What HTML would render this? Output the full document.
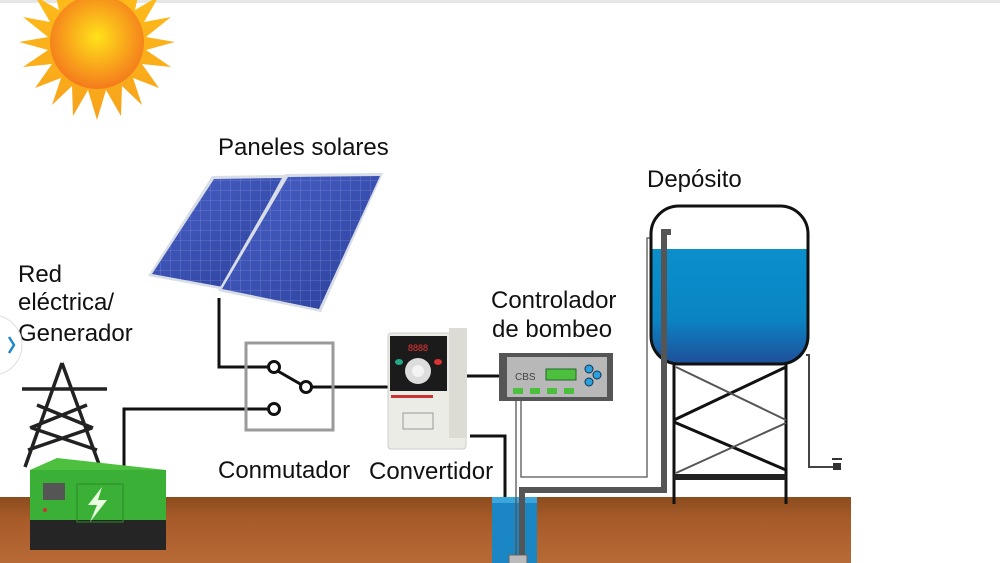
<!DOCTYPE html>
<html><head><meta charset="utf-8"><style>
html,body{margin:0;padding:0;background:#fff;width:1000px;height:563px;overflow:hidden}
svg{display:block}
text{font-family:"Liberation Sans",sans-serif;fill:#111}
</style></head><body>
<svg width="1000" height="563" viewBox="0 0 1000 563" xmlns="http://www.w3.org/2000/svg">
<defs>
<radialGradient id="sun" cx="0.5" cy="0.45" r="0.55"><stop offset="0" stop-color="#ffe21a"/><stop offset="1" stop-color="#f47a1c"/></radialGradient>
<linearGradient id="ray" x1="0" y1="0" x2="0" y2="1"><stop offset="0" stop-color="#ffc21a"/><stop offset="1" stop-color="#f7a21a"/></linearGradient>
<linearGradient id="soil" x1="0" y1="0" x2="0" y2="1"><stop offset="0" stop-color="#8a4c1e"/><stop offset="0.3" stop-color="#a65a28"/><stop offset="1" stop-color="#b86a36"/></linearGradient>
<linearGradient id="water" x1="0" y1="0" x2="0" y2="1"><stop offset="0" stop-color="#0b8fcc"/><stop offset="0.6" stop-color="#0a85c4"/><stop offset="1" stop-color="#1f4f9a"/></linearGradient>
<linearGradient id="panel" x1="0" y1="0" x2="1" y2="1"><stop offset="0" stop-color="#4a62c8"/><stop offset="1" stop-color="#2b3f9a"/></linearGradient>
<pattern id="grid" width="10" height="10" patternUnits="userSpaceOnUse"><path d="M0 0H10M0 0V10" stroke="#8fa3e6" stroke-width="0.8"/></pattern>
</defs>
<rect x="0" y="0" width="1000" height="3" fill="#e6e6e6"/>
<!-- sun -->
<g transform="translate(97,42)">
<polygon fill="url(#ray)" points="0,-78 9,-48 24,-74 25,-42 45,-63 38,-32 62,-46 47,-20 74,-25 49,-5 78,0 49,8 74,25 45,22 62,46 36,36 45,63 25,44 24,74 9,48 0,78 -9,48 -24,74 -25,44 -45,63 -36,36 -62,46 -45,22 -74,25 -49,8 -78,0 -49,-5 -74,-25 -47,-20 -62,-46 -38,-32 -45,-63 -25,-42 -24,-74 -9,-48"/>
<circle r="47" fill="url(#sun)"/>
</g>
<!-- panels -->
<polygon points="212,176 285,175 225,290 148,276" fill="#d8dde6"/>
<polygon points="214,179 282,178 223,287 152,274" fill="url(#panel)"/>
<polygon points="214,179 282,178 223,287 152,274" fill="url(#grid)" opacity="0.6"/>
<polygon points="285,174 383,173 321,312 218,291" fill="#d8dde6"/>
<polygon points="288,177 380,176 319,309 222,289" fill="url(#panel)"/>
<polygon points="288,177 380,176 319,309 222,289" fill="url(#grid)" opacity="0.6"/>
<g font-size="24">
<text x="218" y="155">Paneles solares</text>
<text x="18" y="282">Red</text>
<text x="18" y="310">eléctrica/</text>
<text x="18" y="341">Generador</text>
<text x="647" y="187">Depósito</text>
<text x="491" y="308">Controlador</text>
<text x="492" y="337">de bombeo</text>
<text x="218" y="478">Conmutador</text>
<text x="369" y="479">Convertidor</text>
<text x="556" y="572">Bomba</text>
</g>
<!-- left edge button -->
<circle cx="-8" cy="345" r="30" fill="#fff" stroke="#ddd"/>
<path d="M9 337 L14 345 L9 353" stroke="#1e88c8" stroke-width="2.5" fill="none"/>
<!-- wires -->
<g stroke="#111" stroke-width="3" fill="none">
<path d="M219 298 V367 H270"/>
<path d="M124 470 V409 H267"/>
<path d="M310 387 H388"/>
<path d="M467 376 H500"/>
<path d="M470 436 H505 V555"/>
</g>
<!-- switch -->
<rect x="246" y="343" width="87" height="87" fill="none" stroke="#9a9a9a" stroke-width="3"/>
<g stroke="#111" stroke-width="3" fill="#fff">
<line x1="276" y1="370" x2="302" y2="385"/>
<circle cx="274" cy="367" r="5.5"/><circle cx="306" cy="387" r="5.5"/><circle cx="274" cy="409" r="5.5"/>
</g>
<!-- tower -->
<g stroke="#222" stroke-width="3.5" fill="none">
<path d="M62 363 L25 467 M62 363 L100 467 M22 389 H107 M37 405 L93 428 M87 405 L30 428 M32 428 L97 450 M92 428 L28 450"/>
</g>
<!-- ground -->
<rect x="0" y="497" width="492" height="66" fill="url(#soil)"/>
<rect x="537" y="497" width="314" height="66" fill="url(#soil)"/>
<rect x="492" y="499" width="45" height="64" fill="#1a86c4"/>
<rect x="492" y="497" width="45" height="6" fill="#3aa6dc"/>
<rect x="509" y="555" width="18" height="10" fill="#bbb" stroke="#666"/>
<!-- generator -->
<polygon points="30,470 57,458 166,470 166,480" fill="#4ec040"/>
<rect x="30" y="470" width="136" height="58" fill="#3bb036"/>
<rect x="30" y="520" width="136" height="30" fill="#252525"/>
<rect x="43" y="483" width="22" height="17" fill="#555"/>
<rect x="77" y="484" width="46" height="38" fill="none" stroke="#2a8a26"/>
<path d="M102 487 L88 505 H97 L90 522 L107 500 H98 Z" fill="#e8ffe0"/>
<circle cx="45" cy="510" r="2" fill="#c33"/>
<!-- converter -->
<rect x="388" y="333" width="78" height="116" rx="3" fill="#ecece6" stroke="#ccc"/>
<rect x="449" y="328" width="18" height="110" fill="#dcdcd4"/>
<rect x="390" y="336" width="57" height="55" fill="#1b1b1b"/>
<text x="408" y="351" font-size="9" style="fill:#e33">8888</text>
<circle cx="418" cy="371" r="13" fill="#ddd"/><circle cx="418" cy="371" r="6" fill="#f4f4f4"/>
<ellipse cx="399" cy="362" rx="4" ry="3" fill="#2a8"/><ellipse cx="438" cy="362" rx="4" ry="3" fill="#d33"/>
<rect x="391" y="395" width="42" height="3" fill="#c33"/>
<rect x="403" y="413" width="30" height="16" fill="none" stroke="#999"/>
<!-- controller -->
<rect x="499" y="353" width="114" height="48" fill="#555"/>
<rect x="507" y="357" width="100" height="40" fill="#b8b8b8"/>
<text x="515" y="380" font-size="10" style="fill:#444">CBS</text>
<rect x="546" y="369" width="30" height="11" fill="#4cbf3c" stroke="#263"/>
<circle cx="589" cy="369" r="4" fill="#2aa0dc" stroke="#135"/><circle cx="597" cy="375" r="4" fill="#2aa0dc" stroke="#135"/><circle cx="589" cy="382" r="4" fill="#2aa0dc" stroke="#135"/>
<g fill="#4cbf3c"><rect x="513" y="388" width="10" height="6"/><rect x="530" y="388" width="10" height="6"/><rect x="547" y="388" width="10" height="6"/><rect x="564" y="388" width="10" height="6"/></g>
<!-- sensor line -->
<path d="M516 401 V555 M521 401 V477 H647 V238 H653" stroke="#555" stroke-width="1.3" fill="none"/>
<!-- tank -->
<rect x="651" y="206" width="157" height="158" rx="28" fill="#fff"/>
<path d="M651 249 H808 V336 Q808 364 780 364 H679 Q651 364 651 336 Z" fill="url(#water)"/>
<rect x="651" y="206" width="157" height="158" rx="28" fill="none" stroke="#111" stroke-width="3"/>
<!-- pipe -->
<path d="M522 555 V490 H664 V232 H671" stroke="#555" stroke-width="6" fill="none"/>
<path d="M806 355 H809 V467 H833" stroke="#444" stroke-width="2" fill="none"/>
<rect x="833" y="463" width="8" height="7" fill="#333"/><rect x="832" y="458" width="10" height="2" fill="#333"/>
<!-- stand -->
<g stroke="#111" stroke-width="3" fill="none">
<path d="M674 364 V504 M786 364 V504"/>
<path d="M674 420 L786 367 M674 422 L786 470"/>
</g>
<g stroke="#555" stroke-width="2" fill="none"><path d="M676 367 L786 420 M676 473 L786 423"/></g>
<rect x="674" y="474" width="112" height="6" fill="#222"/>
</svg>
</body></html>
